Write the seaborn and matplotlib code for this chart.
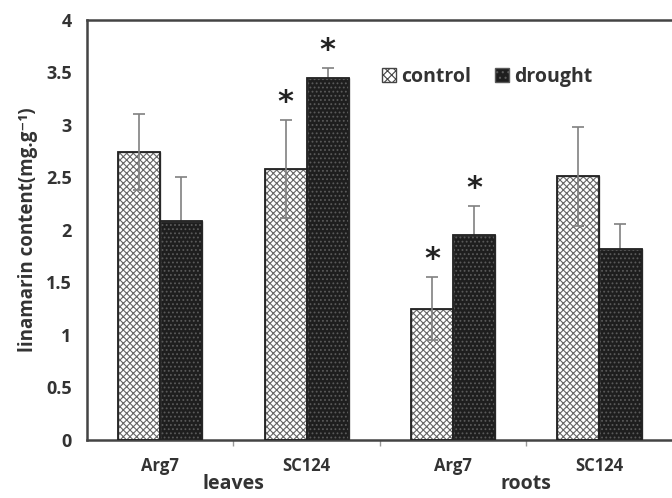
import matplotlib
matplotlib.use("Agg")
import matplotlib.pyplot as plt
import seaborn as sns
import pandas as pd
from matplotlib.patches import Patch

tissues = ["leaves", "leaves", "roots", "roots"]
cultivars = ["Arg7", "SC124", "Arg7", "SC124"]
treatments = ["control", "drought"]
control_vals = [2.74, 2.58, 1.25, 2.51]
drought_vals = [2.09, 3.45, 1.95, 1.82]
control_err = [0.36, 0.47, 0.30, 0.47]
drought_err = [0.41, 0.09, 0.28, 0.24]
control_sig = [False, True, True, False]
drought_sig = [False, True, True, False]
y_ticks = [0, 0.5, 1, 1.5, 2, 2.5, 3, 3.5, 4]
y_tick_labels = ["0", "0.5", "1", "1.5", "2", "2.5", "3", "3.5", "4"]

keys = [f"{t} {c}" for t, c in zip(tissues, cultivars)]
df = pd.DataFrame({
    "group": keys * 2,
    "treatment": ["control"] * 4 + ["drought"] * 4,
    "value": control_vals + drought_vals,
})

sns.set_theme(style="white")
plt.rcParams["font.family"] = ["Open Sans", "DejaVu Sans"]
plt.rcParams["font.weight"] = "bold"
plt.rcParams["hatch.linewidth"] = 0.8

text_color = "#333333"
axis_color = "#444444"
dark = "#1e1e1e"

fig = plt.figure(figsize=(6.72, 4.98), dpi=100)
ax = fig.add_axes([0.1295, 0.1165, 0.878, 0.8435])

sns.barplot(
    data=df, x="group", y="value", hue="treatment",
    hue_order=treatments, order=keys,
    palette=["white", dark], width=0.575,
    errorbar=None, legend=False, ax=ax, zorder=2,
)

# hatch colour follows edgecolor, so the frame is drawn separately
for bar in ax.containers[0]:
    bar.set_hatch("xxxxx")
    bar.set_edgecolor("#666666")
for bar in ax.containers[1]:
    bar.set_hatch("....")
    bar.set_edgecolor("#5a5a5a")
for cont in ax.containers:
    for bar in cont:
        ax.add_patch(plt.Rectangle((bar.get_x(), bar.get_y()), bar.get_width(),
                                   bar.get_height(), fill=False, ec="#222222",
                                   lw=1.3, zorder=3))

for cont, vals, errs, sig, z in [
    (ax.containers[0], control_vals, control_err, control_sig, 4),
    (ax.containers[1], drought_vals, drought_err, drought_sig, 1),
]:
    xs = [b.get_x() + b.get_width() / 2 for b in cont]
    ax.errorbar(xs, vals, yerr=errs, fmt="none", ecolor="#808080",
                elinewidth=1.2, capsize=4.5, capthick=1.2, zorder=z)
    for x, v, e, s in zip(xs, vals, errs, sig):
        if s:
            ax.text(x, v + e + 0.03, "*", ha="center", va="bottom",
                    fontsize=22, color="#222222", family="DejaVu Sans")

ax.set_ylim(0, 4)
ax.set_xlim(-0.5, 3.53)
ax.set_yticks(y_ticks)
ax.set_yticklabels(y_tick_labels)
ax.set_xticks(range(len(keys)))
ax.set_xticklabels(cultivars)
ax.set_xticks([0.5, 1.5, 2.5], minor=True)
ax.tick_params(axis="y", which="major", direction="out", length=5, width=1,
               color=axis_color, labelsize=13, labelcolor=text_color, pad=6)
ax.tick_params(axis="x", which="major", length=0, labelsize=12,
               labelcolor=text_color, pad=12)
ax.tick_params(axis="x", which="minor", direction="out", length=4, width=1,
               color="#999999", bottom=True)
for lab in ax.get_xticklabels() + ax.get_yticklabels():
    lab.set_fontweight("bold")

for side in ["left", "bottom", "top"]:
    ax.spines[side].set_color(axis_color)
    ax.spines[side].set_linewidth(1.8)
ax.spines["right"].set_visible(False)

ax.set_xlabel("")
ax.set_ylabel("linamarin content(mg.g\u207b\u00b9)", fontsize=13.5,
              fontweight="bold", color=text_color, labelpad=6)

for pos, name in [(0.5, "leaves"), (2.5, "roots")]:
    ax.text(pos, -0.42, name, ha="center", va="center", fontsize=14,
            fontweight="bold", color=text_color, clip_on=False)

handles = [
    Patch(facecolor="white", edgecolor="#444444", hatch="xxxx", label="control"),
    Patch(facecolor=dark, edgecolor="#5a5a5a", hatch="...", label="drought"),
]
leg = ax.legend(handles=handles, loc="upper left", bbox_to_anchor=(0.47, 0.93),
                ncol=2, frameon=False, handlelength=0.75, handleheight=0.75,
                handletextpad=0.25, columnspacing=1.2, fontsize=14)
for t in leg.get_texts():
    t.set_fontweight("bold")
    t.set_color(text_color)

fig.savefig("out.png", dpi=100, facecolor="white")
